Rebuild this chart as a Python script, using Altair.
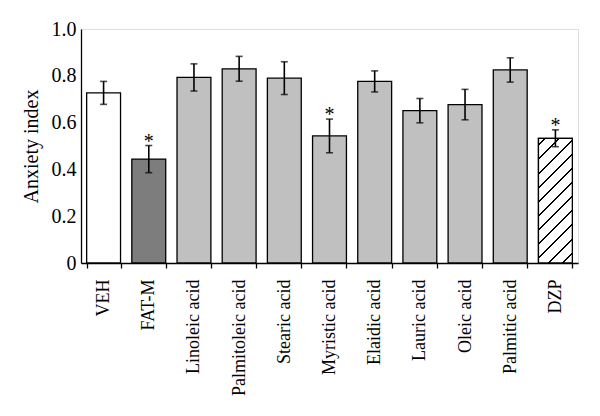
import altair as alt
import pandas as pd
import math

categories = ["VEH", "FAT-M", "Linoleic acid", "Palmitoleic acid", "Stearic acid",
              "Myristic acid", "Elaidic acid", "Lauric acid", "Oleic acid",
              "Palmitic acid", "DZP"]
means = [0.727, 0.444, 0.793, 0.830, 0.790, 0.543, 0.776, 0.651, 0.677, 0.825, 0.533]
errors = [0.049, 0.058, 0.058, 0.053, 0.070, 0.072, 0.045, 0.052, 0.065, 0.052, 0.036]
fills = ["#ffffff", "#7d7d7d"] + ["#c0c0c0"] * 8 + ["#ffffff"]
hatched = [False] * 10 + [True]
significant = [False, True, False, False, False, True, False, False, False, False, True]

df = pd.DataFrame({
    "cat": categories, "mean": means, "err": errors, "fill": fills,
    "hatched": hatched, "sig": significant,
})
df["lo"] = df["mean"] - df["err"]
df["hi"] = df["mean"] + df["err"]
df["star"] = ["*" if s else "" for s in df["sig"]]

W, H = 497, 234
PAD_IN, PAD_OUT = 0.25, 0.125
FONT = "Liberation Serif"
FS = 20
FSX = 18

# hatch pattern as a striped linear gradient (style only)
step = W / (len(categories) - PAD_IN + 2 * PAD_OUT)
bw = step * (1 - PAD_IN)
bh = means[categories.index("DZP")] * H
r = bw / bh
y2 = (1 + r) / (1 + r * r)
x2 = r * y2
D = (bw + bh) / math.sqrt(2)
period_px, line_px = 10.0, 1.4
n = int(D / period_px) + 1
hw = (line_px / D) / 2
stops = []
for k in range(n + 1):
    c = (k + 0.5) * period_px / D
    a, b = max(0.0, c - hw), min(1.0, c + hw)
    if a >= 1.0:
        break
    stops += [alt.GradientStop(offset=a, color="white"),
              alt.GradientStop(offset=a, color="black"),
              alt.GradientStop(offset=b, color="black"),
              alt.GradientStop(offset=b, color="white")]
stops = [alt.GradientStop(offset=0, color="white")] + stops + [alt.GradientStop(offset=1, color="white")]
hatch = alt.LinearGradient(gradient="linear", stops=stops, x1=0, y1=0, x2=x2, y2=y2)

x_enc = alt.X("cat:N", sort=categories, title=None,
              scale=alt.Scale(paddingInner=PAD_IN, paddingOuter=PAD_OUT),
              axis=alt.Axis(labelAngle=-90, labelFont=FONT, labelFontSize=FSX,
                            labelColor="black", labelPadding=11, tickBand="extent",
                            tickSize=5, tickColor="black", tickWidth=1.3,
                            domainColor="black", domainWidth=1.3))
y_scale = alt.Scale(domain=[0, 1])
y_axis = alt.Axis(values=[0, 0.2, 0.4, 0.6, 0.8, 1.0], labelExpr="datum.value == 0 ? '0' : format(datum.value, '.1f')",
                  ticks=False, tickSize=0, grid=False, labelFont=FONT, labelFontSize=FS,
                  labelColor="black", labelPadding=5, domainColor="black", domainWidth=1.3,
                  title="Anxiety index", titleFont=FONT, titleFontSize=FS, titleFontWeight="normal",
                  titleColor="black", titleX=-44, titleY=117, titleBaseline="alphabetic")

base = alt.Chart(df)
bars = base.mark_bar(stroke="black", strokeWidth=1.3).encode(
    x=x_enc,
    y=alt.Y("mean:Q", scale=y_scale, axis=y_axis),
    fill=alt.Fill("fill:N", scale=None),
)
hatch_bar = base.transform_filter("datum.hatched").mark_bar(
    fill=hatch, stroke="black", strokeWidth=1.3).encode(
    x=alt.X("cat:N", sort=categories), y="mean:Q")
rule = base.mark_rule(color="black", strokeWidth=1.6).encode(
    x=alt.X("cat:N", sort=categories), y="lo:Q", y2="hi:Q")
cap_lo = base.mark_tick(color="black", size=7, thickness=1.6).encode(
    x=alt.X("cat:N", sort=categories), y="lo:Q")
cap_hi = base.mark_tick(color="black", size=7, thickness=1.6).encode(
    x=alt.X("cat:N", sort=categories), y="hi:Q")
stars = base.mark_text(font=FONT, fontSize=FS, color="black", baseline="alphabetic", dy=2).encode(
    x=alt.X("cat:N", sort=categories), y="hi:Q", text="star:N")

chart = alt.layer(bars, hatch_bar, rule, cap_lo, cap_hi, stars).properties(
    width=W, height=H,
    autosize=alt.AutoSizeParams(type="none"),
    padding={"left": 73, "top": 21, "right": 14, "bottom": 145},
).configure_view(stroke=None).configure(background="white")

chart.save("out.html", embed_options={"renderer": "svg", "actions": False})
